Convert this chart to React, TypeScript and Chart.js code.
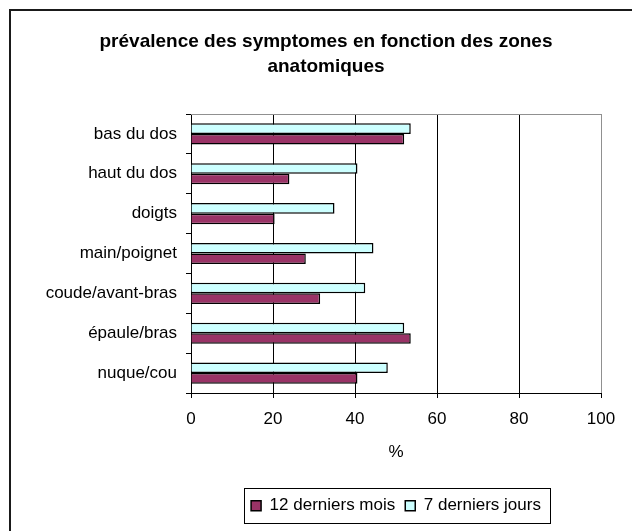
import React, { useEffect, useRef } from 'react';
import { Chart, registerables } from 'chart.js';

Chart.register(...registerables);

const categories = ['bas du dos', 'haut du dos', 'doigts', 'main/poignet', 'coude/avant-bras', 'épaule/bras', 'nuque/cou'];
const septJours = [53.6, 40.6, 35.0, 44.5, 42.5, 52.0, 48.0];
const douzeMois = [52.0, 24.0, 20.4, 28.0, 31.5, 53.6, 40.6];
const seriesNames = ['12 derniers mois', '7 derniers jours'];
const titleLines = ['prévalence des symptomes en fonction des zones', 'anatomiques'];
const axisTitle = '%';
const xMin = 0;
const xMax = 100;
const xStep = 20;

const FONT = "'Liberation Sans', Arial, Helvetica, sans-serif";

const framePlugin = {
  id: 'framePlugin',
  afterDraw(chart: any) {
    const { ctx, chartArea, width, height } = chart;
    ctx.save();
    // outer frame (cropped: only left and top visible)
    ctx.fillStyle = '#1a1a1a';
    ctx.fillRect(9, 9, width - 9, 2);
    ctx.fillRect(9, 9, 2, height - 9);
    // plot area top border (gray)
    ctx.strokeStyle = '#909090';
    ctx.lineWidth = 1;
    ctx.beginPath();
    ctx.moveTo(chartArea.left, Math.round(chartArea.top) + 0.5);
    ctx.lineTo(chartArea.right + 1, Math.round(chartArea.top) + 0.5);
    ctx.stroke();
    // legend border
    const legend = chart.legend;
    if (legend && legend.legendHitBoxes && legend.legendHitBoxes.length) {
      const hb = legend.legendHitBoxes;
      const first = hb[0];
      const last = hb[hb.length - 1];
      const left = first.left - 7;
      const right = last.left + last.width + 9;
      const cy = first.top + first.height / 2;
      ctx.strokeStyle = '#000';
      ctx.lineWidth = 1;
      ctx.strokeRect(Math.round(left) + 0.5, Math.round(cy - 17.5) + 0.5, Math.round(right - left), 35);
    }
    ctx.restore();
  },
};

export default function App() {
  const canvasRef = useRef<HTMLCanvasElement | null>(null);

  useEffect(() => {
    if (!canvasRef.current) return;
    const chart = new Chart(canvasRef.current, {
      type: 'bar',
      data: {
        labels: categories,
        datasets: [
          {
            label: seriesNames[1],
            data: septJours,
            backgroundColor: '#CCFFFF',
            borderColor: '#000',
            borderWidth: 1.5,
            categoryPercentage: 0.53,
            barPercentage: 1,
          },
          {
            label: seriesNames[0],
            data: douzeMois,
            backgroundColor: '#993366',
            borderColor: '#000',
            borderWidth: 1.5,
            categoryPercentage: 0.53,
            barPercentage: 1,
          },
        ],
      },
      options: {
        indexAxis: 'y',
        responsive: false,
        animation: false,
        layout: { padding: { left: 40, right: 20, top: 0, bottom: 6.8 } },
        scales: {
          x: {
            type: 'linear',
            min: xMin,
            max: xMax,
            ticks: {
              stepSize: xStep,
              padding: 10.8,
              color: '#000',
              font: { family: FONT, size: 17 },
            },
            grid: {
              color: (c: any) => (c.tick && c.tick.value === xMax ? '#909090' : '#000'),
              tickColor: '#000',
              tickLength: 5,
              lineWidth: 1,
            },
            border: { color: '#000', width: 1 },
            title: {
              display: true,
              text: axisTitle,
              color: '#000',
              font: { family: FONT, size: 17 },
              padding: { top: 0, bottom: 25 },
            },
            afterFit: (s: any) => {
              s.height = 94.2;
              s.paddingRight = 31;
            },
          },
          y: {
            ticks: {
              padding: 9,
              color: '#000',
              font: { family: FONT, size: 17 },
            },
            grid: {
              offset: true,
              drawOnChartArea: false,
              tickLength: 5,
              tickColor: '#000',
              color: '#000',
            },
            border: { color: '#000', width: 1 },
            afterFit: (s: any) => {
              s.width = 151;
            },
          },
        },
        plugins: {
          legend: {
            position: 'bottom',
            reverse: true,
            fullSize: false,
            labels: {
              boxWidth: 10,
              boxHeight: 10,
              padding: 10,
              color: '#000',
              font: { family: FONT, size: 17 },
            },
          },
          title: {
            display: true,
            text: titleLines,
            color: '#000',
            font: { family: FONT, size: 19, weight: 'bold', lineHeight: 1.3158 },
            padding: { top: 29.2, bottom: 34.8 },
          },
          tooltip: { enabled: false },
        },
      },
      plugins: [framePlugin],
    } as any);
    return () => chart.destroy();
  }, []);

  return (
    <div style={{ position: 'absolute', left: 0, top: 0, width: 632, height: 531, background: '#fff' }}>
      <canvas ref={canvasRef} width={632} height={531} style={{ display: 'block', width: 632, height: 531 }} />
    </div>
  );
}
